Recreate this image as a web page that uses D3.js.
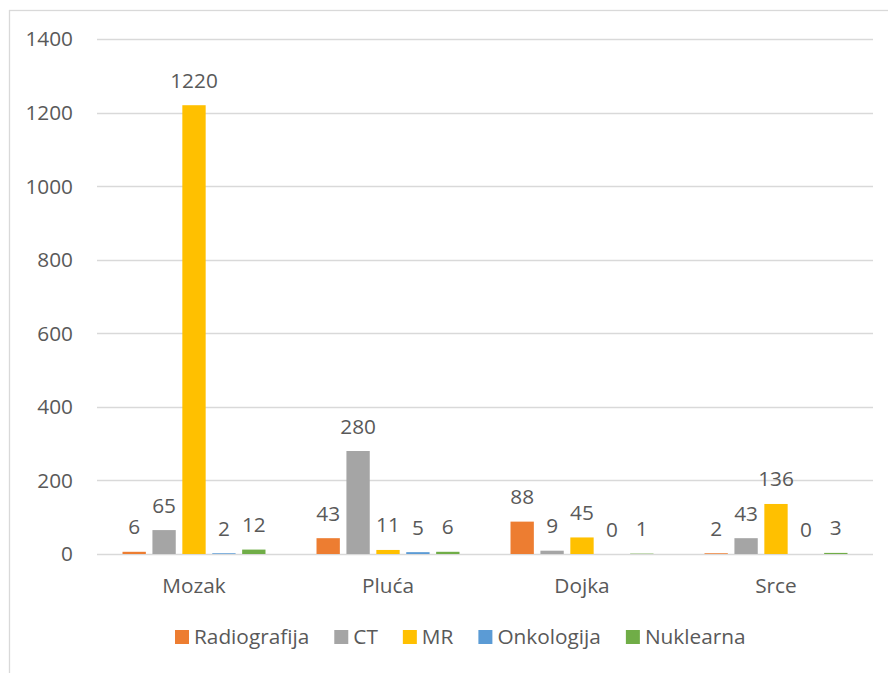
<!DOCTYPE html>
<html>
<head>
<meta charset="utf-8">
<script src="https://cdn.jsdelivr.net/npm/d3@7"></script>
<style>
  body { margin: 0; background: #fff; }
  text { font-family: "Open Sans", Lato, sans-serif; fill: #595959; }
</style>
</head>
<body>
<div id="chart"></div>
<script>
// values
const categories = ["Mozak", "Pluća", "Dojka", "Srce"];
const seriesNames = ["Radiografija", "CT", "MR", "Onkologija", "Nuklearna"];
const seriesColors = ["#ED7D31", "#A5A5A5", "#FFC000", "#5B9BD5", "#70AD47"];
const radiografija = [6, 43, 88, 2];
const ct = [65, 280, 9, 43];
const mr = [1220, 11, 45, 136];
const onkologija = [2, 5, 0, 0];
const nuklearna = [12, 6, 1, 3];
const yTicks = [0, 200, 400, 600, 800, 1000, 1200, 1400];

const seriesValues = [radiografija, ct, mr, onkologija, nuklearna];

const width = 888, height = 673;
const plotLeft = 97, plotRight = 873, plotTop = 39, plotBottom = 554;
const fontSize = 20.8;

const svg = d3.select("#chart").append("svg")
    .attr("width", width)
    .attr("height", height);

// chart border
svg.append("rect")
    .attr("x", 9.5).attr("y", 10.5)
    .attr("width", 890).attr("height", 680)
    .attr("fill", "none")
    .attr("stroke", "#d9d9d9")
    .attr("stroke-width", 1.3);

const y = d3.scaleLinear().domain([0, 1400]).range([plotBottom, plotTop]);

const x0 = d3.scaleBand()
    .domain(categories)
    .range([plotLeft, plotRight])
    .paddingInner(0.263)
    .paddingOuter(0.1315);

const x1 = d3.scaleBand()
    .domain(seriesNames)
    .range([0, x0.bandwidth()])
    .paddingInner(0.22);

// gridlines
svg.append("g").selectAll("line")
    .data(yTicks)
    .enter().append("line")
    .attr("x1", plotLeft).attr("x2", plotRight)
    .attr("y1", d => Math.round(y(d)) + 0.5)
    .attr("y2", d => Math.round(y(d)) + 0.5)
    .attr("stroke", "#d9d9d9")
    .attr("stroke-width", 1.3);

// y axis labels
svg.append("g").selectAll("text")
    .data(yTicks)
    .enter().append("text")
    .attr("x", 73)
    .attr("y", d => y(d))
    .attr("dy", "0.36em")
    .attr("text-anchor", "end")
    .style("font-size", fontSize + "px")
    .text(d => d);

// bars + value labels
const rows = [];
categories.forEach((c, i) => {
    seriesNames.forEach((s, j) => {
        rows.push({cat: c, series: s, value: seriesValues[j][i], color: seriesColors[j]});
    });
});

svg.append("g").selectAll("rect")
    .data(rows)
    .enter().append("rect")
    .attr("x", d => x0(d.cat) + x1(d.series))
    .attr("y", d => y(d.value))
    .attr("width", x1.bandwidth())
    .attr("height", d => y(0) - y(d.value))
    .attr("fill", d => d.color);

svg.append("g").selectAll("text")
    .data(rows)
    .enter().append("text")
    .attr("x", d => x0(d.cat) + x1(d.series) + x1.bandwidth() / 2)
    .attr("y", d => y(d.value) - 17.5)
    .attr("text-anchor", "middle")
    .style("font-size", fontSize + "px")
    .text(d => d.value);

// category labels
svg.append("g").selectAll("text")
    .data(categories)
    .enter().append("text")
    .attr("x", d => x0(d) + x0.bandwidth() / 2)
    .attr("y", 593)
    .attr("text-anchor", "middle")
    .style("font-size", fontSize + "px")
    .text(d => d);

// legend
const legend = svg.append("g");
let lx = 175;
seriesNames.forEach((s, j) => {
    legend.append("rect")
        .attr("x", lx).attr("y", 630)
        .attr("width", 14).attr("height", 14)
        .attr("fill", seriesColors[j]);
    const t = legend.append("text")
        .attr("x", lx + 19)
        .attr("y", 637)
        .attr("dy", "0.36em")
        .style("font-size", fontSize + "px")
        .text(s);
    lx += 19 + t.node().getComputedTextLength() + 25;
});
</script>
</body>
</html>
